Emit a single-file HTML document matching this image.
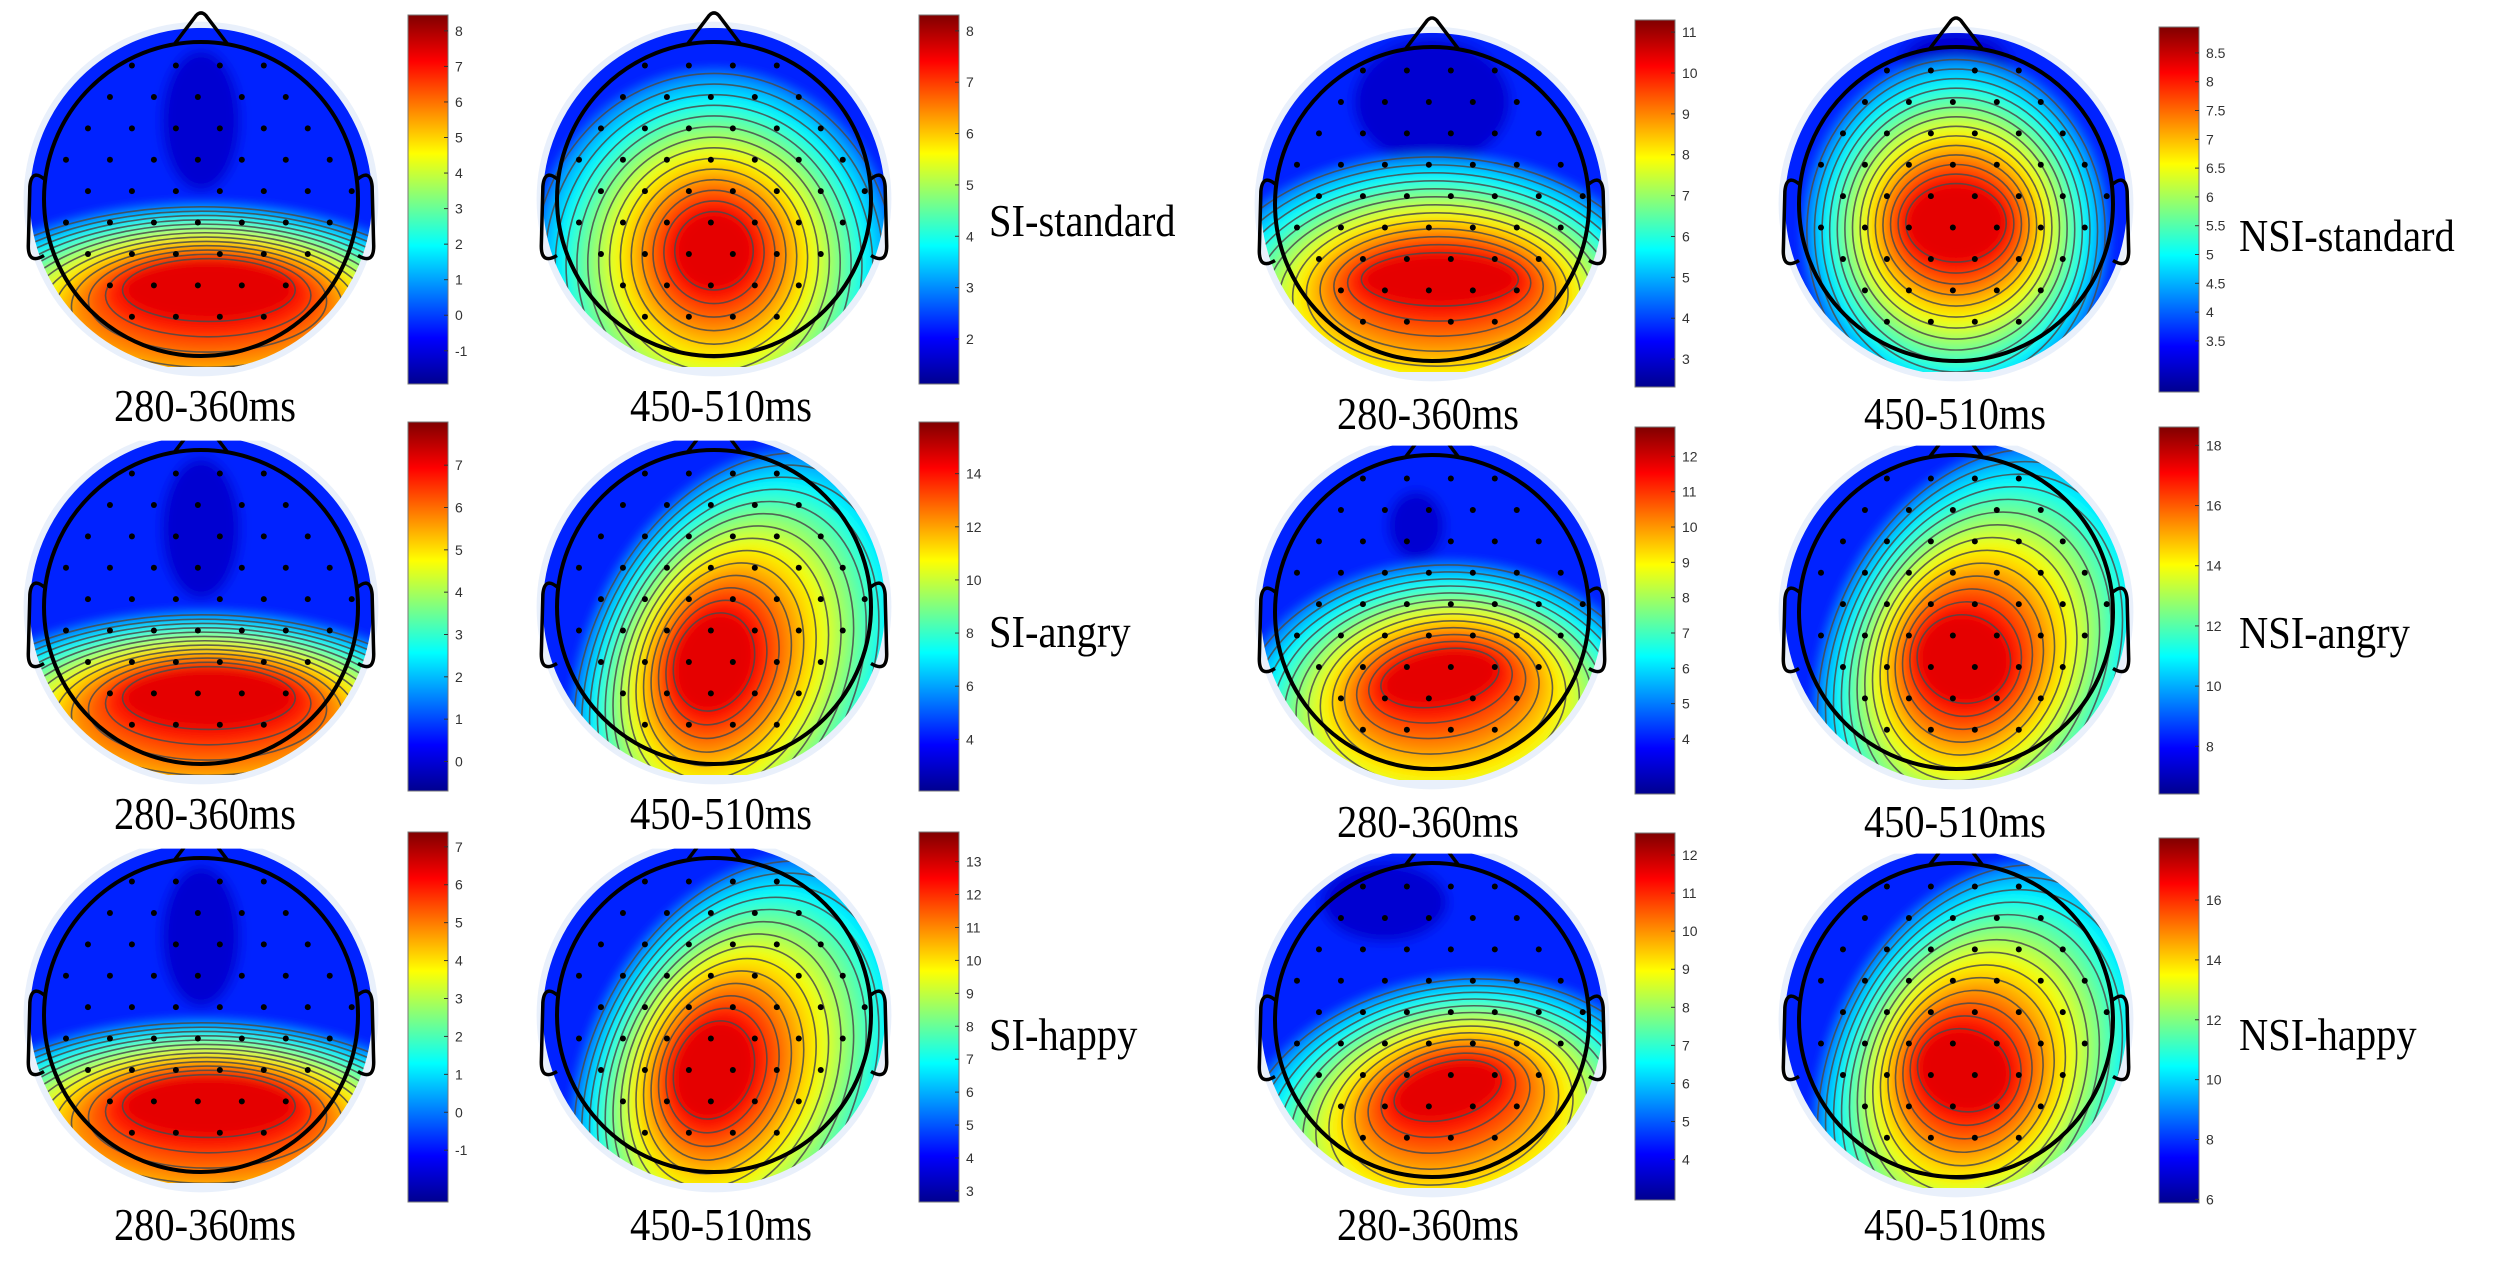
<!DOCTYPE html>
<html><head><meta charset="utf-8">
<style>
html,body{margin:0;padding:0;background:#fff;width:2500px;height:1269px;overflow:hidden;}
svg{display:block;}
</style></head>
<body>
<svg id="s" width="2500" height="1269" xmlns="http://www.w3.org/2000/svg">
<defs>
<linearGradient id="jet" x1="0" y1="1" x2="0" y2="0">
<stop offset="0" stop-color="#00008f"/>
<stop offset="0.125" stop-color="#0000ff"/>
<stop offset="0.375" stop-color="#00ffff"/>
<stop offset="0.5" stop-color="#80ff80"/>
<stop offset="0.625" stop-color="#ffff00"/>
<stop offset="0.875" stop-color="#ff0000"/>
<stop offset="1" stop-color="#800000"/>
</linearGradient>
<filter id="bl" x="-20%" y="-20%" width="140%" height="140%"><feGaussianBlur stdDeviation="6"/></filter>
</defs>
</svg>
<script>
const S=document.getElementById('s');const NS='http://www.w3.org/2000/svg';
function el(t,a,p){const e=document.createElementNS(NS,t);for(const k in a)e.setAttribute(k,a[k]);(p||S).appendChild(e);return e;}
function cl(x){return Math.max(0,Math.min(1,x));}
function jet(t){const r=cl(1.5-Math.abs(4*t-3)),g=cl(1.5-Math.abs(4*t-2)),b=cl(1.5-Math.abs(4*t-1));return `rgb(${Math.round(r*255)},${Math.round(g*255)},${Math.round(b*255)})`;}
let id=0;
function topo(cx,cy,R,o,cut){
  id++;
  const top=cut?cy-R*1.06:cy-R*1.3;
  const cp=el('clipPath',{id:'c'+id});
  el('rect',{x:cx-R*1.3,y:Math.max(top,cy-R*1.09),width:R*2.6,height:R*2.16-(Math.max(top,cy-R*1.09)-(cy-R*1.09))},cp);
  const hc=el('clipPath',{id:'h'+id});
  el('rect',{x:cx-R*1.3,y:top,width:R*2.6,height:R*2.6},hc);
  const halo=el('g',{'clip-path':'url(#h'+id+')'});
  el('circle',{cx,cy,r:R*1.13,fill:'#e9f0fb'},halo);
  const g=el('g',{'clip-path':'url(#c'+id+')'});
  const cp2=el('clipPath',{id:'d'+id});
  el('circle',{cx,cy,r:R*1.09},cp2);
  const g2=el('g',{'clip-path':'url(#d'+id+')'},g);
  const fg=el('g',{filter:'url(#bl)'},g2);
  el('rect',{x:cx-R*1.3,y:cy-R*1.3,width:R*2.6,height:R*2.6,fill:jet(0.16)},fg);
  if(o.cold) el('ellipse',{cx:cx+o.cold[0]*R,cy:cy+o.cold[1]*R,rx:o.cold[2]*R,ry:o.cold[3]*R,fill:jet(0.08)},fg);
  const N=o.n||13;const sg=el('g',{},g2);
  const out=o.out,hot=o.hot;
  for(let i=0;i<N;i++){
    const s=i/(N-1);const L=(a,b)=>a+(b-a)*Math.pow(s,o.p||1);
    const ex=cx+L(out[0],hot[0])*R,ey=cy+L(out[1],hot[1])*R,rx=L(out[2],hot[2])*R,ry=L(out[3],hot[3])*R,rot=L(out[4]||0,hot[4]||0);
    const t=(o.t0||0.27)+(0.9-(o.t0||0.27))*s;
    el('ellipse',{cx:ex,cy:ey,rx,ry,transform:`rotate(${rot} ${ex} ${ey})`,fill:jet(t)},fg);
    el('ellipse',{cx:ex,cy:ey,rx,ry,transform:`rotate(${rot} ${ex} ${ey})`,fill:'none',stroke:'#4a4a4a','stroke-width':1.6,opacity:0.85},sg);
  }
  for(let yy=-0.85;yy<=0.95;yy+=0.2){for(let xx=-1;xx<=1;xx+=0.28){
    const x=xx+((Math.round((yy+0.85)/0.2))%2?0.14:0);if(x*x+yy*yy<0.93) el('circle',{cx:cx+x*R,cy:cy+yy*R,r:3,fill:'#000'},g2);}}
  const hg=el('g',{'clip-path':'url(#h'+id+')'});
  el('circle',{cx,cy,r:R,fill:'none',stroke:'#000','stroke-width':4},hg);
  el('path',{d:`M${cx-R*0.17} ${cy-R*0.985} L${cx-R*0.03} ${cy-R*1.17} Q${cx} ${cy-R*1.2} ${cx+R*0.03} ${cy-R*1.17} L${cx+R*0.17} ${cy-R*0.985}`,fill:'none',stroke:'#000','stroke-width':3.5},hg);
  for(const sd of [-1,1]){
    el('path',{d:`M${cx+sd*R*0.99} ${cy-R*0.12} Q${cx+sd*R*1.08} ${cy-R*0.2} ${cx+sd*R*1.09} ${cy-R*0.08} L${cx+sd*R*1.1} ${cy+R*0.3} Q${cx+sd*R*1.1} ${cy+R*0.42} ${cx+sd*R*1.0} ${cy+R*0.36}`,fill:'none',stroke:'#000','stroke-width':3.5},hg);
  }
}
function cbar(x,y,h,ticks,f0,f1){
  el('rect',{x,y,width:40,height:h,fill:'url(#jet)',stroke:'#777','stroke-width':1});
  ticks.forEach((v,i)=>{const yy=y+h*(f1+(f0-f1)*i/(ticks.length-1));
    el('line',{x1:x+36,y1:yy,x2:x+40,y2:yy,stroke:'#333'});
    const t=el('text',{x:x+47,y:yy+5,'font-family':'Liberation Sans Narrow, Liberation Sans, sans-serif','font-size':14,fill:'#333'});t.textContent=v;});
}
function txt(x,y,s,anchor){const t=el('text',{x,y,'font-family':'Liberation Serif, serif','font-size':46,fill:'#000','text-anchor':anchor||'middle',transform:`translate(${x} ${y}) scale(0.88 1) translate(${-x} ${-y})`});t.textContent=s;}
const R=157;
const P={
 a280:{out:[0,1.0,1.8,0.95,0],hot:[0.05,0.58,0.55,0.2,0],cold:[0,-0.5,0.25,0.45],n:13},
 a450:{out:[0,0.45,1.15,1.25,0],hot:[0,0.33,0.25,0.25,0],n:14},
 n280:{out:[0,0.75,1.5,1.05,0],hot:[0.05,0.48,0.5,0.17,0],cold:[0,-0.65,0.5,0.4],n:13},
 n450:{out:[0,0.18,0.95,1.1,0],hot:[0,0.12,0.32,0.25,0],cold:[0,-0.9,0.35,0.2],n:14},
 b450:{out:[0.2,0.4,1.0,1.45,25],hot:[0,0.35,0.25,0.32,20],n:14},
 c280:{out:[0.1,0.75,1.35,1.05,0],hot:[0.05,0.42,0.38,0.18,-10],cold:[-0.1,-0.55,0.18,0.22],n:13},
 c450:{out:[0.2,0.3,1.0,1.4,25],hot:[0.05,0.3,0.3,0.28,20],n:14},
 d280:{out:[0.15,0.8,1.4,1.05,-10],hot:[0.1,0.45,0.35,0.18,-15],cold:[-0.3,-0.75,0.4,0.25],n:13},
 e450:{out:[0.2,0.35,1.0,1.4,25],hot:[0.05,0.32,0.3,0.26,20],n:14}
};
const rows=[[199,204],[607,612],[1015,1020]];
const pats=[['a280','a450','n280','n450'],['a280','b450','c280','c450'],['a280','b450','d280','e450']];
const mx=[201,714,1432,1956];
for(let r=0;r<3;r++)for(let c=0;c<4;c++){topo(mx[c],rows[r][c<2?0:1],R,P[pats[r][c]],r>0);}
const L=(a,b,s)=>{const o=[];for(let v=b;v>=a-1e-9;v-=s)o.push(+v.toFixed(1));return o;};
cbar(408,15,369,L(-1,8,1),0.91,0.043);
cbar(919,15,369,L(2,8,1),0.878,0.043);
cbar(1635,20,367,L(3,11,1),0.924,0.033);
cbar(2159,27,365,L(3.5,8.5,0.5),0.86,0.071);
cbar(408,422,369,L(0,7,1),0.92,0.117);
cbar(919,422,369,L(4,14,2),0.86,0.14);
cbar(1635,427,367,L(4,12,1),0.85,0.08);
cbar(2159,427,367,L(8,18,2),0.87,0.05);
cbar(408,832,370,L(-1,7,1),0.86,0.04);
cbar(919,832,370,L(3,13,1),0.97,0.08);
cbar(1635,833,367,L(4,12,1),0.89,0.06);
cbar(2159,838,365,L(6,16,2),0.99,0.17);
const ly=[[421,421],[829,829],[1240,1232]];
for(let r=0;r<3;r++){txt(205,ly[r][0],'280-360ms');txt(721,ly[r][0],'450-510ms');txt(1428,ly[r][1]+8,'280-360ms');txt(1955,ly[r][1]+8,'450-510ms');}
txt(989,236,'SI-standard','start');txt(989,647,'SI-angry','start');txt(989,1050,'SI-happy','start');
txt(2239,251,'NSI-standard','start');txt(2239,648,'NSI-angry','start');txt(2239,1050,'NSI-happy','start');
</script>
</body></html>
